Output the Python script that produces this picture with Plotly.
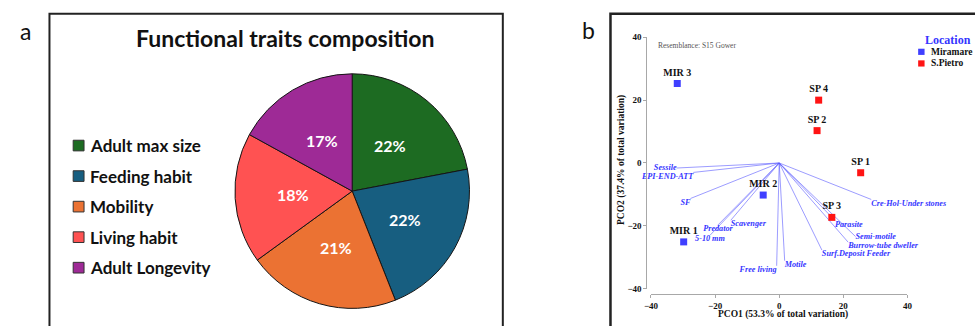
import math
import plotly.graph_objects as go

W, H = 975, 326


def px(x):
    return x / W


def py(y):
    return 1 - y / H


# ---------------- data ----------------
trait_labels = ["Adult max size", "Feeding habit", "Mobility", "Living habit", "Adult Longevity"]
trait_values = [22, 22, 21, 18, 17]
trait_colors = ["#1d6b22", "#175e80", "#eb7233", "#ff5252", "#9e2a96"]

mir_names = ["MIR 1", "MIR 2", "MIR 3"]
mir_x = [-29.8, -5.0, -31.8]
mir_y = [-25.1, -10.2, 25.3]

sp_names = ["SP 1", "SP 2", "SP 3", "SP 4"]
sp_x = [25.4, 11.8, 16.4, 12.3]
sp_y = [-3.1, 10.3, -17.3, 20.0]

vec_names = ["Sessile", "EPI-END-ATT", "SF", "Scavenger", "Predator", "5-10 mm",
             "Free living", "Motile", "Surf.Deposit Feeder", "Burrow-tube dweller",
             "Semi-motile", "Parasite", "Cre-Hol-Under stones"]
vec_x = [-32.0, -26.8, -27.7, -15.1, -19.1, -21.6, -0.8, 1.7, 13.3, 21.5, 23.8, 17.4, 28.7]
vec_y = [-1.6, -3.0, -11.3, -18.2, -19.7, -23.0, -32.7, -31.1, -27.7, -25.2, -23.4, -18.3, -11.6]

axis_ticks = [-40, -20, 0, 20, 40]

# ---------------- styles ----------------
vec_textpos = ["middle left", "bottom left", "bottom left", "bottom right", "bottom center",
               "bottom center", "bottom left", "bottom right", "bottom right", "bottom right",
               "middle right", "bottom right", "bottom right"]
SERIF = "Liberation Serif"
BLUE_PT = "#3f3fff"
RED_PT = "#ff1414"
LBL_BLUE = "#3535ff"

# pie geometry (pixels)
PIE_CX, PIE_CY, PIE_R = 349.5, 192, 121

fig = go.Figure()

# ---- Pie (panel a) ----
fig.add_trace(go.Pie(
    labels=trait_labels, values=trait_values, sort=False, direction="clockwise", rotation=0,
    marker=dict(colors=trait_colors, line=dict(color="#151515", width=1)),
    textinfo="none",
    domain=dict(x=[px(PIE_CX - PIE_R), px(PIE_CX + PIE_R)], y=[py(PIE_CY + PIE_R), py(PIE_CY - PIE_R)]),
    showlegend=False, hoverinfo="label+percent",
))

# ---- PCO vectors (panel b) ----
lx, ly = [], []
for x, y in zip(vec_x, vec_y):
    lx += [0, x, None]
    ly += [0, y, None]
fig.add_trace(go.Scatter(x=lx, y=ly, mode="lines", line=dict(color="rgba(90,90,255,0.6)", width=1),
                         showlegend=False, hoverinfo="skip", cliponaxis=False))
fig.add_trace(go.Scatter(x=vec_x, y=vec_y, mode="text", text=vec_names, textposition=vec_textpos,
                         textfont=dict(family=SERIF, size=8.2, color=LBL_BLUE, style="italic", weight="bold"),
                         showlegend=False, hoverinfo="skip", cliponaxis=False))

# ---- PCO points ----
fig.add_trace(go.Scatter(x=mir_x, y=mir_y, mode="markers+text", text=mir_names, textposition="top center",
                         marker=dict(symbol="square", size=7, color=BLUE_PT),
                         textfont=dict(family=SERIF, size=10, color="#111", weight="bold"),
                         name="Miramare", showlegend=False, cliponaxis=False))
fig.add_trace(go.Scatter(x=sp_x, y=sp_y, mode="markers+text", text=sp_names, textposition="top center",
                         marker=dict(symbol="square", size=7, color=RED_PT),
                         textfont=dict(family=SERIF, size=10, color="#111", weight="bold"),
                         name="S.Pietro", showlegend=False, cliponaxis=False))

axis_common = dict(range=[-40, 40], tickvals=axis_ticks, showline=True, linecolor="#a8a8a8", linewidth=1,
                   ticks="outside", ticklen=3, tickcolor="#a8a8a8", showgrid=False, zeroline=False,
                   tickfont=dict(family=SERIF, size=9, color="#111", weight="bold"), anchor="free")
fig.update_layout(
    xaxis=dict(domain=[px(652), px(911.7)], position=py(298.3), **axis_common),
    yaxis=dict(domain=[py(292.7), py(33.3)], position=px(647.3), **axis_common),
)

annotations = []
shapes = []


def note(text, x, y, xa="center", ya="middle", **kw):
    annotations.append(dict(text=text, x=px(x), y=py(y), xref="paper", yref="paper", xanchor=xa,
                            yanchor=ya, showarrow=False, **kw))


# pie percentage labels, placed at half radius along each slice's mid-angle
total = sum(trait_values)
cum = 0
for v in trait_values:
    mid = (cum + v / 2) / total * 2 * math.pi
    cum += v
    note(f"{round(v / total * 100)}%", PIE_CX + 0.5 * PIE_R * math.sin(mid), PIE_CY - 0.5 * PIE_R * math.cos(mid),
         font=dict(family="Lato", size=16, color="white", weight="bold"))

# panel borders
shapes.append(dict(type="rect", xref="paper", yref="paper", x0=px(43), x1=px(502), y0=py(345), y1=py(9),
                   line=dict(color="#222", width=2)))
shapes.append(dict(type="rect", xref="paper", yref="paper", x0=px(611), x1=px(995), y0=py(345), y1=py(9),
                   line=dict(color="#222", width=2.5)))

# panel letters
note("a", 19, 27, font=dict(family="Lato", size=23, color="#111"))
note("b", 589, 26, font=dict(family="Lato", size=23, color="#111"))

# pie title
note("Functional traits composition", 282, 34, font=dict(family="Lato", size=23, color="#111", weight="bold"))

# pie legend
for i, (lab, col) in enumerate(zip(trait_labels, trait_colors)):
    yc = 145 + i * 31.5
    shapes.append(dict(type="rect", xref="paper", yref="paper", x0=px(67), x1=px(78),
                       y0=py(yc + 5.5), y1=py(yc - 5.5), fillcolor=col, line=dict(color="#333", width=1)))
    note(lab, 82, yc, xa="left", font=dict(family="Lato", size=17, color="#111", weight="bold"))

# PCO texts
note("Resemblance: S15 Gower", 657, 42, xa="left", font=dict(family=SERIF, size=7.5, color="#555"))
note("PCO1 (53.3% of total variation)", 786, 319,
     font=dict(family=SERIF, size=9.5, color="#111", weight="bold"))
note("PCO2 (37.4% of total variation)", 621.5, 160, textangle=-90,
     font=dict(family=SERIF, size=9.5, color="#111", weight="bold"))

# Location legend
note("Location", 927, 36, xa="left", font=dict(family=SERIF, size=12, color=LBL_BLUE, weight="bold"))
for i, (nm, col) in enumerate([("Miramare", BLUE_PT), ("S.Pietro", RED_PT)]):
    yc = 48.3 + i * 12
    shapes.append(dict(type="rect", xref="paper", yref="paper", x0=px(922.5), x1=px(929),
                       y0=py(yc + 3.2), y1=py(yc - 3.2), fillcolor=col, line=dict(width=0)))
    note(nm, 933.5, yc, xa="left", font=dict(family=SERIF, size=9.5, color="#111", weight="bold"))

fig.update_layout(
    width=W, height=H, margin=dict(l=0, r=0, t=0, b=0),
    paper_bgcolor="white", plot_bgcolor="white",
    annotations=annotations, shapes=shapes, showlegend=False,
)

fig.write_html("out.html", config={"displayModeBar": False},
               post_script="document.body.style.margin='0px';")
